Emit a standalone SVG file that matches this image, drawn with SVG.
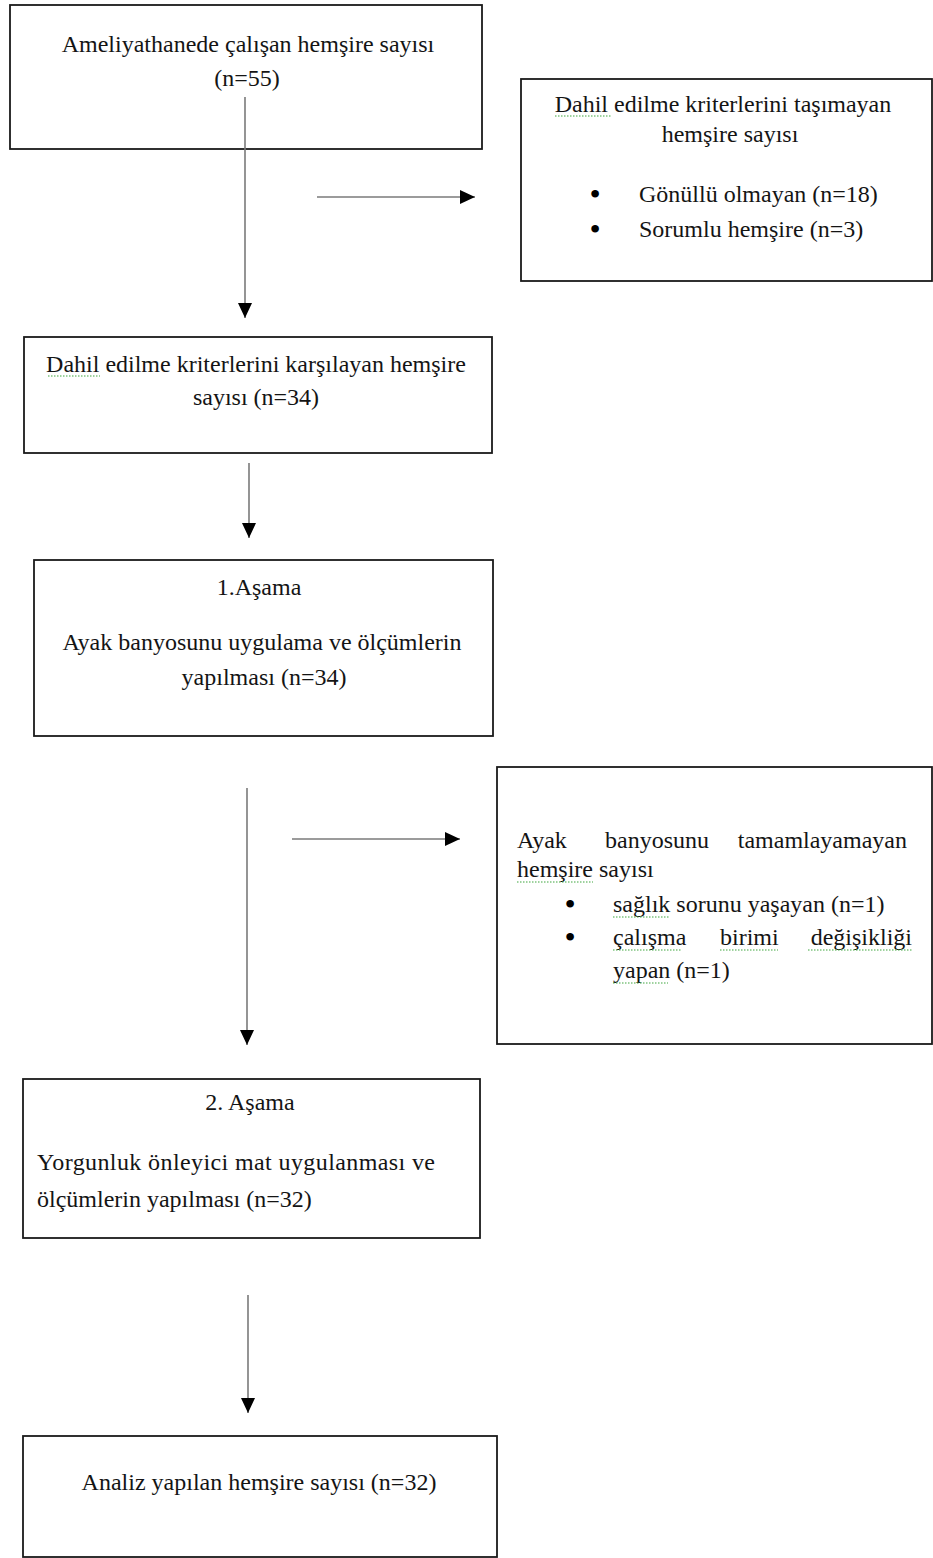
<svg xmlns="http://www.w3.org/2000/svg" width="933" height="1558" viewBox="0 0 933 1558">
<style>
.box{fill:#fff;stroke:#1a1a1a;stroke-width:1.8}
.t{font-family:"Liberation Serif","Times New Roman",serif;font-size:24px;fill:#141414}
.c{text-anchor:middle}
.b{font-family:"Liberation Serif","Times New Roman",serif;font-size:32px;fill:#000;text-anchor:middle}
.conn{stroke:#7a7a7a;stroke-width:1.6;fill:none}
.sq{stroke:#3fa63f;stroke-width:1.2;stroke-dasharray:1.5 1.5;fill:none}
</style>
<defs>
<marker id="ah" markerUnits="userSpaceOnUse" markerWidth="15" markerHeight="14" refX="15" refY="7" orient="auto">
<path d="M0,0 L15,7 L0,14 z" fill="#000"/>
</marker>
</defs>
<rect width="933" height="1558" fill="#fff"/>

<g id="n1">
<rect class="box" x="10" y="5" width="472" height="144"/>
<text class="t c" x="248" y="52">Ameliyathanede çalışan hemşire sayısı</text>
<text class="t c" x="247" y="86">(n=55)</text>
</g>

<g id="n2">
<rect class="box" x="521" y="79" width="411" height="202"/>
<text class="t c" x="723" y="112">Dahil edilme kriterlerini taşımayan</text>
<text class="t c" x="730" y="142">hemşire sayısı</text>
<text class="b" x="595" y="205">•</text>
<text class="t" x="639" y="202">Gönüllü olmayan (n=18)</text>
<text class="b" x="595" y="240">•</text>
<text class="t" x="639" y="237">Sorumlu hemşire (n=3)</text>
<path class="sq" d="M555,116 H612"/>
</g>

<g id="n3">
<rect class="box" x="24" y="337" width="468" height="116"/>
<text class="t c" x="256" y="372">Dahil edilme kriterlerini karşılayan hemşire</text>
<text class="t c" x="256" y="405">sayısı (n=34)</text>
<path class="sq" d="M48,376 H100"/>
</g>

<g id="n4">
<rect class="box" x="34" y="560" width="459" height="176"/>
<text class="t c" x="259" y="595">1.Aşama</text>
<text class="t c" x="262" y="650">Ayak banyosunu uygulama ve ölçümlerin</text>
<text class="t c" x="264" y="685">yapılması  (n=34)</text>
</g>

<g id="n5">
<rect class="box" x="497" y="767" width="435" height="277"/>
<text class="t"><tspan x="517" y="848">Ayak</tspan><tspan x="605" y="848">banyosunu</tspan><tspan x="907" y="848" text-anchor="end">tamamlayamayan</tspan></text>
<text class="t" x="517" y="877">hemşire sayısı</text>
<text class="b" x="570" y="915">•</text>
<text class="t" x="613" y="912">sağlık sorunu yaşayan (n=1)</text>
<text class="b" x="570" y="948">•</text>
<text class="t"><tspan x="613" y="945">çalışma</tspan><tspan x="720" y="945">birimi</tspan><tspan x="912" y="945" text-anchor="end">değişikliği</tspan></text>
<text class="t" x="613" y="978">yapan (n=1)</text>
<path class="sq" d="M517,882 H593 M613,917 H669 M613,950 H682 M720,950 H778 M808,950 H912 M613,983 H668"/>
</g>

<g id="n6">
<rect class="box" x="23" y="1079" width="457" height="159"/>
<text class="t c" x="250" y="1110">2. Aşama</text>
<text class="t" x="37" y="1170" textLength="398">Yorgunluk önleyici mat uygulanması ve</text>
<text class="t" x="37" y="1207">ölçümlerin yapılması (n=32)</text>
</g>

<g id="n7">
<rect class="box" x="23" y="1436" width="474" height="121"/>
<text class="t c" x="259" y="1490">Analiz yapılan hemşire sayısı (n=32)</text>
</g>

<g id="connectors">
<line class="conn" x1="245" y1="97" x2="245" y2="318" marker-end="url(#ah)"/>
<line class="conn" x1="317" y1="197" x2="475" y2="197" marker-end="url(#ah)"/>
<line class="conn" x1="249" y1="463" x2="249" y2="538" marker-end="url(#ah)"/>
<line class="conn" x1="247" y1="788" x2="247" y2="1045" marker-end="url(#ah)"/>
<line class="conn" x1="292" y1="839" x2="460" y2="839" marker-end="url(#ah)"/>
<line class="conn" x1="248" y1="1295" x2="248" y2="1413" marker-end="url(#ah)"/>
</g>
</svg>
